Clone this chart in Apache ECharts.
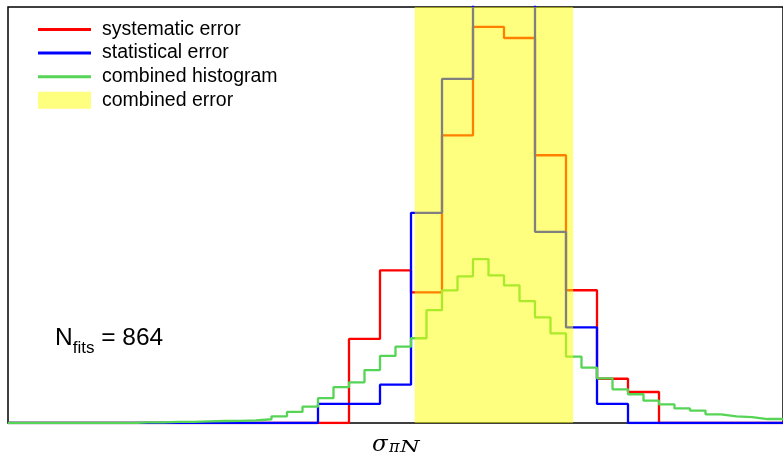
<!DOCTYPE html>
<html>
<head>
<meta charset="utf-8">
<script src="https://cdn.jsdelivr.net/npm/echarts@6/dist/echarts.min.js"></script>
<style>
  html, body { margin: 0; padding: 0; background: #fff; }
  #chart { width: 783px; height: 457px; }
</style>
</head>
<body>
<div id="chart"></div>
<script>
// Fit counts per bin. The x axis runs in units of one coarse bin (25 bins).
const coarseBinWidth = 1;
const fineBinWidth = 0.5;
const xMax = 25;
const yMax = 188;

// systematic error histogram (coarse bins 0..24)
const systematicCounts = [0, 0, 0, 0, 0, 0, 0, 0, 0, 0, 0,
  38, 69, 59, 130, 179, 174, 121, 60, 20, 14,
  0, 0, 0, 0];

// statistical error histogram (coarse bins 0..24), normalised to the same total
const statisticalCounts = [0, 0, 0, 0, 0, 0, 0, 0, 0, 0,
  8.6, 8.6, 17.3, 95.0, 155.5, 224.6, 216.0, 86.4, 43.2, 8.6,
  0, 0, 0, 0, 0];

// combined histogram (fine bins 0..49)
const combinedCounts = [0, 0, 0, 0, 0, 0, 0, 0,
  0.3, 0.3, 0.5, 0.5, 0.7, 0.9, 1.0, 1.2,
  1.7, 3.0, 5.0, 7.4, 11.2, 16.2, 18.4, 23.9, 30.3, 34.5, 38.3, 51.0,
  59.9, 66.3, 74.1, 66.7, 62.2, 55.1, 47.7, 40.5, 30.0, 25.0, 20.2, 15.2,
  13.0, 10.1, 8.4, 6.6, 5.6, 3.9, 3.0, 2.7, 1.8, 1.8];

// combined error interval
const combinedErrorLow = 13.12;
const combinedErrorHigh = 18.23;

const seriesNames = ['systematic error', 'statistical error', 'combined histogram', 'combined error'];
const nFits = 864;

// turn bin contents into step-line vertices (left edge of every bin)
function histogramPoints(values, width) {
  const pts = [[0, 0]];
  values.forEach(function (v, i) { pts.push([i * width, v]); });
  pts.push([values.length * width, values[values.length - 1]]);
  return pts;
}

const chart = echarts.init(document.getElementById('chart'), null, { renderer: 'canvas' });

const lineBase = {
  type: 'line',
  step: 'end',
  symbol: 'none',
  animation: false,
  clip: true
};

const lineIcon = 'path://M0,0H53V3H0Z';
const sansFont = 'Liberation Sans, Arial, sans-serif';
const mathFont = 'DejaVu Serif, Liberation Serif, serif';

chart.setOption({
  animation: false,
  backgroundColor: '#fff',
  grid: {
    left: 8, top: 7, width: 778, height: 416,
    show: true, borderColor: '#000', borderWidth: 1.5, backgroundColor: 'transparent'
  },
  xAxis: {
    type: 'value', min: 0, max: xMax,
    axisLine: { show: false }, axisTick: { show: false },
    axisLabel: { show: false }, splitLine: { show: false }
  },
  yAxis: {
    type: 'value', min: 0, max: yMax,
    axisLine: { show: false }, axisTick: { show: false },
    axisLabel: { show: false }, splitLine: { show: false }
  },
  legend: {
    orient: 'vertical',
    left: 38, top: 19.5, padding: 0,
    itemWidth: 53, itemHeight: 17, itemGap: 3.6,
    textStyle: { fontFamily: sansFont, fontSize: 19.5, lineHeight: 17, color: '#000', padding: [0, 0, 0, 6] },
    data: [
      { name: seriesNames[0], icon: lineIcon },
      { name: seriesNames[1], icon: lineIcon },
      { name: seriesNames[2], icon: lineIcon },
      { name: seriesNames[3], icon: 'rect' }
    ]
  },
  series: [
    Object.assign({}, lineBase, {
      name: seriesNames[0], z: 2,
      data: histogramPoints(systematicCounts, coarseBinWidth),
      lineStyle: { color: '#ff0000', width: 2.3 },
      itemStyle: { color: '#ff0000' }
    }),
    Object.assign({}, lineBase, {
      name: seriesNames[1], z: 3,
      data: histogramPoints(statisticalCounts, coarseBinWidth),
      lineStyle: { color: '#0000ff', width: 2.3 },
      itemStyle: { color: '#0000ff' }
    }),
    Object.assign({}, lineBase, {
      name: seriesNames[2], z: 4,
      data: histogramPoints(combinedCounts, fineBinWidth),
      lineStyle: { color: '#55d455', width: 2.3 },
      itemStyle: { color: '#55d455' }
    }),
    {
      type: 'custom', name: seriesNames[3], z: 10, animation: false,
      itemStyle: { color: 'rgba(255,255,0,0.5)' },
      encode: { x: [0, 1] },
      data: [[combinedErrorLow, combinedErrorHigh]],
      renderItem: function (params, api) {
        const p0 = api.coord([api.value(0), yMax]);
        const p1 = api.coord([api.value(1), 0]);
        return {
          type: 'rect',
          shape: { x: p0[0], y: p0[1], width: p1[0] - p0[0], height: p1[1] - p0[1] },
          style: { fill: 'rgba(255,255,0,0.5)' }
        };
      }
    }
  ],
  graphic: [
    {
      type: 'text', left: 55, top: 326, z: 20,
      style: {
        text: '{n|N}{s|fits}{n| = ' + nFits + '}',
        rich: {
          n: { fontFamily: sansFont, fontSize: 24.5, fill: '#000', verticalAlign: 'bottom', lineHeight: 26 },
          s: { fontFamily: sansFont, fontSize: 17, fill: '#000', verticalAlign: 'bottom', lineHeight: 20, padding: [0, 0, -6, 0] }
        }
      }
    },
    // axis title: sigma with subscript pi N
    {
      type: 'text', x: 372, y: 445, z: 20,
      style: { text: 'σ', font: 'italic 23px ' + mathFont, fill: '#000', verticalAlign: 'middle' }
    },
    {
      type: 'text', x: 389, y: 448, z: 20,
      style: { text: 'π', font: 'italic 16px ' + mathFont, fill: '#000', verticalAlign: 'middle' }
    },
    {
      type: 'text', x: 400, y: 448, z: 20, scaleX: 1.4,
      style: { text: 'N', font: 'italic 16px ' + mathFont, fill: '#000', verticalAlign: 'middle' }
    }
  ]
});
</script>
</body>
</html>
